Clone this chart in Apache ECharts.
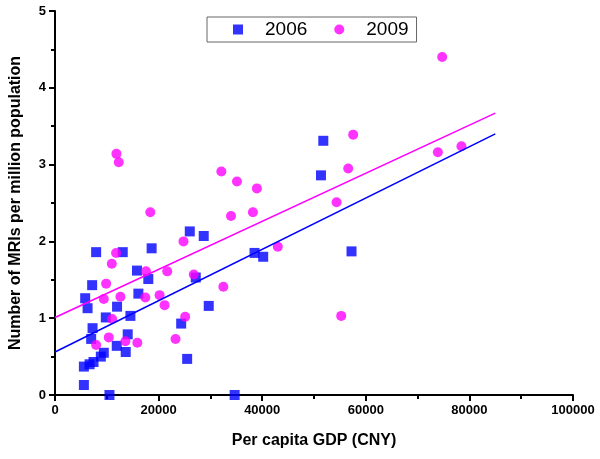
<!DOCTYPE html>
<html><head><meta charset="utf-8">
<script src="https://cdn.jsdelivr.net/npm/echarts@6/dist/echarts.min.js"></script>
<style>html,body{margin:0;padding:0;background:#fff}#c{width:600px;height:459px}</style>
</head><body><div id="c"></div>
<script>
const seriesNames = ['2006', '2009'];
const data2006 = [[5577,0.13],[5577,0.37],[5827,1.26],[6288,1.13],[6673,0.40],[6981,0.73],[7173,1.43],[7250,0.87],[7436,0.43],[7942,1.86],[8846,0.50],[9423,0.55],[9808,1.01],[10513,0],[11923,0.64],[11981,1.15],[13077,1.86],[13654,0.56],[14038,0.79],[14558,1.03],[15827,1.62],[16096,1.32],[18013,1.51],[18654,1.91],[24359,0.93],[25513,0.47],[26019,2.13],[27173,1.53],[28712,2.07],[29679,1.16],[34680,0],[38519,1.85],[40192,1.80],[51346,2.86],[51795,3.31],[57244,1.87]];
const data2009 = [[7942,0.65],[9423,1.25],[9872,1.45],[10385,0.75],[10962,1.71],[11026,0.99],[11795,1.85],[11859,3.14],[12308,3.03],[12628,1.28],[13590,0.70],[15897,0.68],[17436,1.27],[17564,1.61],[18397,2.38],[20192,1.30],[21154,1.17],[21667,1.61],[23269,0.73],[24808,2.00],[25128,1.02],[26795,1.57],[32115,2.91],[32500,1.41],[33974,2.33],[35128,2.78],[38205,2.38],[38974,2.69],[43013,1.93],[54359,2.51],[55256,1.03],[56603,2.95],[57564,3.39],[73910,3.16],[74744,4.40],[78462,3.24]];
const fit2006 = [[0,0.56],[85000,3.40]];
const fit2009 = [[0,1.01],[85000,3.67]];
const xTitle = 'Per capita GDP (CNY)';
const yTitle = 'Number of MRIs per million population';

const chart = echarts.init(document.getElementById('c'), null, {renderer:'canvas'});
const axisFont = {fontFamily:'Liberation Sans, Arial, sans-serif', fontWeight:'bold', fontSize:13, color:'#000'};
chart.setOption({
  animation:false,
  grid:{left:53, right:27, top:11, bottom:64, containLabel:false},
  legend:{
    data:seriesNames,
    left:207, top:17,
    orient:'horizontal',
    itemWidth:10, itemHeight:10,
    itemGap:27,
    padding:[3,8,3,26],
    borderColor:'#666', borderWidth:1,
    textStyle:{fontFamily:'Liberation Sans, Arial, sans-serif', fontSize:19, color:'#000', padding:[0,0,0,17]}
  },
  xAxis:{
    type:'value', min:0, max:100000, interval:20000,
    name:xTitle, nameLocation:'middle', nameGap:38,
    nameTextStyle:{fontFamily:'Liberation Sans, Arial, sans-serif', fontWeight:'bold', fontSize:16, color:'#000'},
    axisLine:{show:true, lineStyle:{color:'#000', width:2}},
    axisTick:{show:true, inside:false, length:6, lineStyle:{color:'#000', width:2}},
    minorTick:{show:true, splitNumber:2, length:4, lineStyle:{color:'#000', width:2}},
    axisLabel:Object.assign({margin:9, formatter:v => String(v)}, axisFont),
    splitLine:{show:false}
  },
  yAxis:{
    type:'value', min:0, max:5, interval:1,
    name:yTitle, nameLocation:'middle', nameGap:31,
    nameTextStyle:{fontFamily:'Liberation Sans, Arial, sans-serif', fontWeight:'bold', fontSize:16, color:'#000'},
    axisLine:{show:true, lineStyle:{color:'#000', width:2}},
    axisTick:{show:true, inside:false, length:6, lineStyle:{color:'#000', width:2}},
    minorTick:{show:true, splitNumber:2, length:4, lineStyle:{color:'#000', width:2}},
    axisLabel:Object.assign({margin:9, formatter:v => String(v)}, axisFont),
    splitLine:{show:false}
  },
  series:[
    {name:seriesNames[0], type:'scatter', symbol:'rect', symbolSize:10, data:data2006, itemStyle:{color:'#0000ff'}, z:2},
    {name:seriesNames[1], type:'scatter', symbol:'circle', symbolSize:10, data:data2009, itemStyle:{color:'#ff00ff'}, z:3},
    {name:'fit2006', type:'line', data:fit2006, showSymbol:false, symbol:'none', lineStyle:{color:'#0000ff', width:1.6}, z:4},
    {name:'fit2009', type:'line', data:fit2009, showSymbol:false, symbol:'none', lineStyle:{color:'#ff00ff', width:1.6}, z:4}
  ]
});
</script></body></html>
